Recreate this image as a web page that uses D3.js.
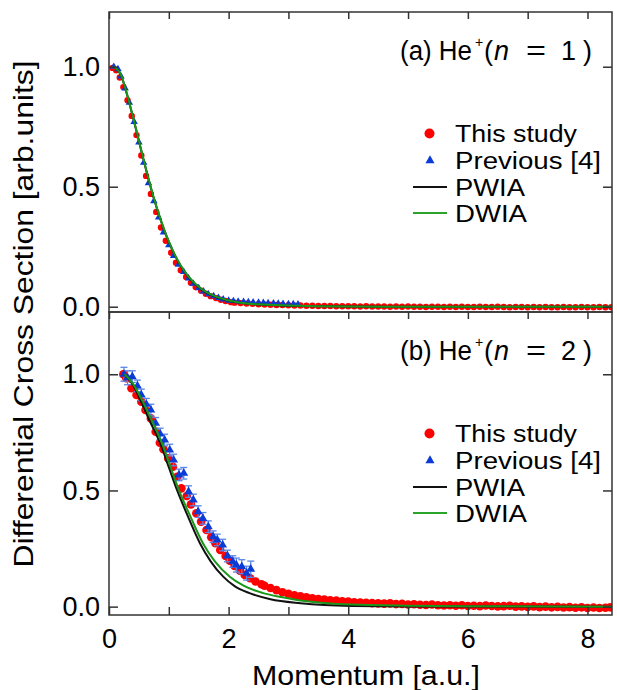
<!DOCTYPE html>
<html>
<head>
<meta charset="utf-8">
<script src="https://cdn.jsdelivr.net/npm/d3@7"></script>
<style>
  body { margin: 0; background: #fff; }
  text { font-family: "Liberation Sans", Arial, sans-serif; fill: #000; }
</style>
</head>
<body>
<svg id="chart" width="617" height="690"></svg>
<script>
// ---- data: [momentum (a.u.), cross section] ----

// (a) He+(n = 1)
const thisStudyA = [
  [0.06, 0.995], [0.12, 0.985], [0.18, 0.955], [0.24, 0.915], [0.31, 0.86], [0.38, 0.795],
  [0.46, 0.715], [0.54, 0.63], [0.62, 0.545], [0.70, 0.47], [0.79, 0.395], [0.87, 0.33],
  [0.95, 0.275], [1.04, 0.225], [1.12, 0.183], [1.20, 0.152], [1.29, 0.124], [1.37, 0.100],
  [1.45, 0.082], [1.54, 0.067], [1.62, 0.054], [1.70, 0.044], [1.79, 0.036], [1.87, 0.029],
  [1.95, 0.024], [2.04, 0.019], [2.1, 0.017], [2.2, 0.015], [2.3, 0.013], [2.4, 0.012],
  [2.5, 0.010], [2.6, 0.009], [2.7, 0.008], [2.8, 0.007], [2.9, 0.007], [3.0, 0.006],
  [3.1, 0.005], [3.2, 0.005], [3.3, 0.004], [3.4, 0.004], [3.5, 0.003], [3.6, 0.003],
  [3.7, 0.003], [3.8, 0.002], [3.9, 0.002], [4.0, 0.002], [4.1, 0.002], [4.2, 0.001],
  [4.3, 0.002], [4.4, 0.001], [4.5, 0.001], [4.6, 0.001], [4.7, 0.000], [4.8, 0.001],
  [4.9, 0.000], [5.0, 0.001], [5.1, 0.000], [5.2, 0.000], [5.3, -0.001], [5.4, 0.000],
  [5.5, 0.000], [5.6, -0.001], [5.7, 0.000], [5.8, -0.001], [5.9, 0.000], [6.0, -0.001],
  [6.1, -0.001], [6.2, 0.000], [6.3, -0.001], [6.4, -0.001], [6.5, 0.000], [6.6, -0.001],
  [6.7, -0.002], [6.8, -0.001], [6.9, -0.001], [7.0, -0.002], [7.1, -0.001], [7.2, -0.002],
  [7.3, -0.001], [7.4, -0.002], [7.5, -0.002], [7.6, -0.001], [7.7, -0.002], [7.8, -0.002],
  [7.9, -0.001], [8.0, -0.002], [8.1, -0.002], [8.2, -0.001], [8.3, -0.002], [8.4, -0.002]
];
const previousA = [
  [0.08, 1.00], [0.15, 0.99], [0.20, 0.96], [0.27, 0.91], [0.34, 0.85], [0.42, 0.77],
  [0.50, 0.685], [0.58, 0.60], [0.66, 0.515], [0.75, 0.44], [0.83, 0.372], [0.91, 0.31],
  [1.00, 0.257], [1.08, 0.212], [1.16, 0.175], [1.25, 0.145], [1.33, 0.118], [1.41, 0.096],
  [1.50, 0.078], [1.58, 0.064], [1.66, 0.053], [1.75, 0.044], [1.83, 0.037], [1.91, 0.031],
  [2.00, 0.026], [2.08, 0.024], [2.16, 0.022], [2.25, 0.021], [2.33, 0.019], [2.41, 0.018],
  [2.50, 0.017], [2.58, 0.016], [2.66, 0.015], [2.75, 0.014], [2.83, 0.013], [2.91, 0.012],
  [3.00, 0.011], [3.08, 0.011], [3.16, 0.010]
];
const pwiaA = [
  [0.08, 1.0], [0.2, 0.965], [0.3, 0.885], [0.4, 0.79], [0.5, 0.69], [0.6, 0.59], [0.7, 0.495],
  [0.8, 0.41], [0.9, 0.335], [1.0, 0.27], [1.1, 0.215], [1.2, 0.17], [1.3, 0.133], [1.4, 0.104],
  [1.5, 0.081], [1.6, 0.063], [1.8, 0.039], [2.0, 0.025], [2.2, 0.016], [2.5, 0.009],
  [3.0, 0.004], [3.5, 0.002], [4.0, 0.001], [5.0, 0.0], [8.41, 0.0]
];
const dwiaA = [
  [0.08, 1.0], [0.2, 0.966], [0.3, 0.887], [0.4, 0.792], [0.5, 0.692], [0.6, 0.592], [0.7, 0.497],
  [0.8, 0.412], [0.9, 0.337], [1.0, 0.272], [1.1, 0.217], [1.2, 0.172], [1.3, 0.135], [1.4, 0.106],
  [1.5, 0.083], [1.6, 0.065], [1.8, 0.041], [2.0, 0.026], [2.2, 0.017], [2.5, 0.010],
  [3.0, 0.005], [3.5, 0.002], [4.0, 0.001], [5.0, 0.0], [8.41, 0.0]
];

// (b) He+(n = 2)
const thisStudyB = [
  [0.24, 1.0], [0.29, 0.983], [0.375, 0.94], [0.46, 0.911], [0.54, 0.882], [0.61, 0.846],
  [0.70, 0.81], [0.78, 0.753], [0.85, 0.705], [0.91, 0.677], [0.99, 0.638], [1.07, 0.602],
  [1.14, 0.559], [1.21, 0.509], [1.30, 0.476], [1.37, 0.44], [1.46, 0.402], [1.54, 0.366],
  [1.63, 0.33], [1.71, 0.299], [1.78, 0.273], [1.86, 0.244], [1.95, 0.218], [2.02, 0.198],
  [2.10, 0.175], [2.19, 0.155], [2.27, 0.136], [2.36, 0.122], [2.45, 0.108], [2.55, 0.096],
  [2.6, 0.09], [2.7, 0.08], [2.8, 0.071], [2.9, 0.062], [3.0, 0.055], [3.1, 0.049],
  [3.2, 0.045], [3.3, 0.040], [3.4, 0.036], [3.5, 0.033], [3.6, 0.031], [3.7, 0.027],
  [3.8, 0.026], [3.9, 0.023], [4.0, 0.022], [4.1, 0.019], [4.2, 0.018], [4.3, 0.017],
  [4.4, 0.015], [4.5, 0.014], [4.6, 0.013], [4.7, 0.014], [4.8, 0.011], [4.9, 0.012],
  [5.0, 0.009], [5.1, 0.010], [5.2, 0.008], [5.3, 0.007], [5.4, 0.009], [5.5, 0.006],
  [5.6, 0.005], [5.7, 0.006], [5.8, 0.004], [5.9, 0.006], [6.0, 0.003], [6.1, 0.004],
  [6.2, 0.002], [6.3, 0.005], [6.4, 0.003], [6.5, 0.001], [6.6, 0.002], [6.7, 0.004],
  [6.8, 0.000], [6.9, 0.001], [7.0, -0.001], [7.1, 0.001], [7.2, -0.002], [7.3, 0.000],
  [7.4, -0.003], [7.5, -0.001], [7.6, -0.004], [7.7, -0.002], [7.8, -0.005], [7.9, -0.003],
  [8.0, -0.006], [8.1, -0.004], [8.2, -0.006], [8.3, -0.005], [8.38, -0.003]
];
// [momentum, value, error]
const previousB = [
  [0.25, 1.0, 0.03], [0.31, 0.985, 0.03], [0.39, 0.99, 0.025], [0.475, 0.95, 0.025],
  [0.54, 0.911, 0.025], [0.625, 0.871, 0.025], [0.70, 0.846, 0.025], [0.78, 0.789, 0.025],
  [0.855, 0.743, 0.025], [0.93, 0.717, 0.025], [1.015, 0.674, 0.025], [1.08, 0.631, 0.025],
  [1.17, 0.567, 0.025], [1.25, 0.574, 0.025], [1.33, 0.495, 0.025], [1.41, 0.459, 0.025],
  [1.49, 0.409, 0.025], [1.57, 0.38, 0.025], [1.66, 0.344, 0.025], [1.74, 0.301, 0.025],
  [1.81, 0.287, 0.025], [1.90, 0.265, 0.025], [1.98, 0.218, 0.025], [2.07, 0.194, 0.025],
  [2.13, 0.179, 0.03], [2.22, 0.172, 0.03], [2.30, 0.144, 0.03], [2.37, 0.161, 0.035]
];
const pwiaB = [
  [0.26, 1.0], [0.4, 0.955], [0.51, 0.897], [0.68, 0.80], [0.86, 0.70], [1.0, 0.60],
  [1.14, 0.50], [1.3, 0.40], [1.52, 0.273], [1.7, 0.195], [1.91, 0.129], [2.1, 0.088],
  [2.35, 0.058], [2.7, 0.032], [3.2, 0.015], [3.6, 0.007], [4.07, 0.003], [5.0, 0.001], [8.41, 0.0]
];
const dwiaB = [
  [0.26, 1.0], [0.4, 0.96], [0.52, 0.905], [0.70, 0.81], [0.89, 0.70], [1.03, 0.60],
  [1.17, 0.50], [1.34, 0.40], [1.57, 0.273], [1.77, 0.195], [2.02, 0.129], [2.25, 0.09],
  [2.58, 0.058], [2.9, 0.04], [3.2, 0.026], [3.6, 0.016], [4.07, 0.009], [5.0, 0.004],
  [6.0, 0.002], [8.41, 0.0]
];

const xTicks = [0, 1, 2, 3, 4, 5, 6, 7, 8];
const xTickLabels = [0, 2, 4, 6, 8];
const yTicks = [0, 0.5, 1.0];
const legendLabels = ['This study', 'Previous [4]', 'PWIA', 'DWIA'];
const legendWidths = [122, 146, 70, 72];

// colours
const redColor = '#ff0000';
const blueColor = '#0b3bd6';
const errColor = '#5a86e8';
const blackColor = '#111111';
const greenColor = '#1a961a';
const frameColor = '#333333';

const svg = d3.select('#chart');

const x = d3.scaleLinear().domain([0, 8.41]).range([109, 612]);

const panels = [
  { id: 'a', top: 12, bottom: 312, yDomain: [-0.022, 1.228], n: '1',
    red: thisStudyA, blue: previousA, pwia: pwiaA, dwia: dwiaA,
    rRed: 3.2, triArea: 24, xLabels: false },
  { id: 'b', top: 312, bottom: 615, yDomain: [-0.036, 1.268], n: '2',
    red: thisStudyB, blue: previousB, pwia: pwiaB, dwia: dwiaB,
    rRed: 4.3, triArea: 34, xLabels: true }
];

panels.forEach(p => drawPanel(p));

function drawPanel(p) {
  const y = d3.scaleLinear().domain(p.yDomain).range([p.bottom, p.top]);
  const off = p.top - 12; // legend / label offset from panel top

  svg.append('clipPath').attr('id', 'clip-' + p.id)
    .append('rect')
    .attr('x', x.range()[0]).attr('y', p.top)
    .attr('width', x.range()[1] - x.range()[0])
    .attr('height', p.bottom - p.top);

  const plot = svg.append('g').attr('clip-path', 'url(#clip-' + p.id + ')');

  // this study
  plot.append('g').selectAll('circle')
    .data(p.red)
    .enter()
    .append('circle')
    .attr('cx', d => x(d[0]))
    .attr('cy', d => y(d[1]))
    .attr('r', p.rRed)
    .attr('fill', redColor);

  // error bars (only when given)
  const withErr = p.blue.filter(d => d.length > 2);
  const eb = plot.append('g').attr('stroke', errColor).attr('stroke-width', 1.3);
  withErr.forEach(d => {
    eb.append('line').attr('x1', x(d[0])).attr('x2', x(d[0]))
      .attr('y1', y(d[1] - d[2])).attr('y2', y(d[1] + d[2]));
    [d[1] - d[2], d[1] + d[2]].forEach(v => {
      eb.append('line').attr('x1', x(d[0]) - 3.5).attr('x2', x(d[0]) + 3.5)
        .attr('y1', y(v)).attr('y2', y(v));
    });
  });

  // previous
  const tri = d3.symbol().type(d3.symbolTriangle).size(p.triArea);
  plot.append('g').selectAll('path')
    .data(p.blue)
    .enter()
    .append('path')
    .attr('d', tri)
    .attr('transform', d => 'translate(' + x(d[0]) + ',' + y(d[1]) + ')')
    .attr('fill', blueColor);

  const lineGen = d3.line()
    .x(d => x(d[0]))
    .y(d => y(d[1]))
    .curve(d3.curveMonotoneX);

  plot.append('path')
    .attr('d', lineGen(p.pwia))
    .attr('fill', 'none')
    .attr('stroke', blackColor)
    .attr('stroke-width', 2);

  plot.append('path')
    .attr('d', lineGen(p.dwia))
    .attr('fill', 'none')
    .attr('stroke', greenColor)
    .attr('stroke-width', 2);

  // axes
  const left = svg.append('g')
    .attr('transform', 'translate(' + x.range()[0] + ',0)')
    .call(d3.axisLeft(y).tickValues(yTicks).tickSize(-9).tickPadding(9)
      .tickFormat(d3.format('.1f')));
  const right = svg.append('g')
    .attr('transform', 'translate(' + x.range()[1] + ',0)')
    .call(d3.axisRight(y).tickValues(yTicks).tickSize(-9).tickFormat(''));
  const top = svg.append('g')
    .attr('transform', 'translate(0,' + p.top + ')')
    .call(d3.axisTop(x).tickValues(xTicks).tickSize(-7).tickFormat(''));
  const axes = [left, right, top];
  if (p.xLabels) {
    const bottom = svg.append('g')
      .attr('transform', 'translate(0,' + p.bottom + ')')
      .call(d3.axisBottom(x).tickValues(xTicks).tickSize(-8).tickPadding(14)
        .tickFormat(d => xTickLabels.includes(d) ? d : ''));
    axes.push(bottom);
  }
  axes.forEach(a => {
    a.select('.domain').remove();
    a.selectAll('line').attr('stroke', frameColor).attr('stroke-width', 1.5);
    a.selectAll('text')
      .attr('font-family', '"Liberation Sans", Arial, sans-serif')
      .attr('font-size', 27)
      .attr('fill', '#000');
  });

  // frame
  svg.append('rect')
    .attr('x', x.range()[0]).attr('y', p.top)
    .attr('width', x.range()[1] - x.range()[0])
    .attr('height', p.bottom - p.top)
    .attr('fill', 'none')
    .attr('stroke', frameColor)
    .attr('stroke-width', 1.5);

  // panel label: (a) He+(n = 1)
  const lbY = 60 + off;
  const label = svg.append('g').attr('font-size', 27);
  label.append('text').attr('x', 400).attr('y', lbY)
    .attr('textLength', 72).attr('lengthAdjust', 'spacingAndGlyphs')
    .text('(' + p.id + ') He');
  label.append('text').attr('x', 475).attr('y', lbY - 13).attr('font-size', 14).text('+');
  label.append('text').attr('x', 484).attr('y', lbY).text('(');
  label.append('text').attr('x', 494).attr('y', lbY).attr('font-style', 'italic').text('n');
  label.append('text').attr('x', 526).attr('y', lbY)
    .attr('textLength', 20).attr('lengthAdjust', 'spacingAndGlyphs').text('=');
  label.append('text').attr('x', 561).attr('y', lbY).text(p.n);
  label.append('text').attr('x', 583).attr('y', lbY).text(')');

  // legend
  const lg = svg.append('g');
  const rowY = [133.5, 160.5, 187, 213].map(v => v + off);
  lg.append('circle').attr('cx', 429.5).attr('cy', rowY[0]).attr('r', 5).attr('fill', redColor);
  lg.append('path')
    .attr('d', d3.symbol().type(d3.symbolTriangle).size(36)())
    .attr('transform', 'translate(430,' + rowY[1] + ')')
    .attr('fill', blueColor);
  lg.append('line').attr('x1', 413).attr('x2', 447).attr('y1', rowY[2]).attr('y2', rowY[2])
    .attr('stroke', blackColor).attr('stroke-width', 1.8);
  lg.append('line').attr('x1', 413).attr('x2', 447).attr('y1', rowY[3]).attr('y2', rowY[3])
    .attr('stroke', '#2aa52a').attr('stroke-width', 1.8);
  legendLabels.forEach((t, i) => {
    lg.append('text')
      .attr('x', 455)
      .attr('y', rowY[i] + 8.5)
      .attr('font-size', 23)
      .attr('textLength', legendWidths[i])
      .attr('lengthAdjust', 'spacingAndGlyphs')
      .text(t);
  });
}

// axis titles
svg.append('text')
  .attr('transform', 'translate(33,314) rotate(-90)')
  .attr('text-anchor', 'middle')
  .attr('font-size', 27)
  .attr('textLength', 507)
  .attr('lengthAdjust', 'spacingAndGlyphs')
  .text('Differential Cross Section [arb.units]');

svg.append('text')
  .attr('x', 366)
  .attr('y', 685)
  .attr('text-anchor', 'middle')
  .attr('font-size', 28)
  .attr('textLength', 228)
  .attr('lengthAdjust', 'spacingAndGlyphs')
  .text('Momentum [a.u.]');
</script>
</body>
</html>
